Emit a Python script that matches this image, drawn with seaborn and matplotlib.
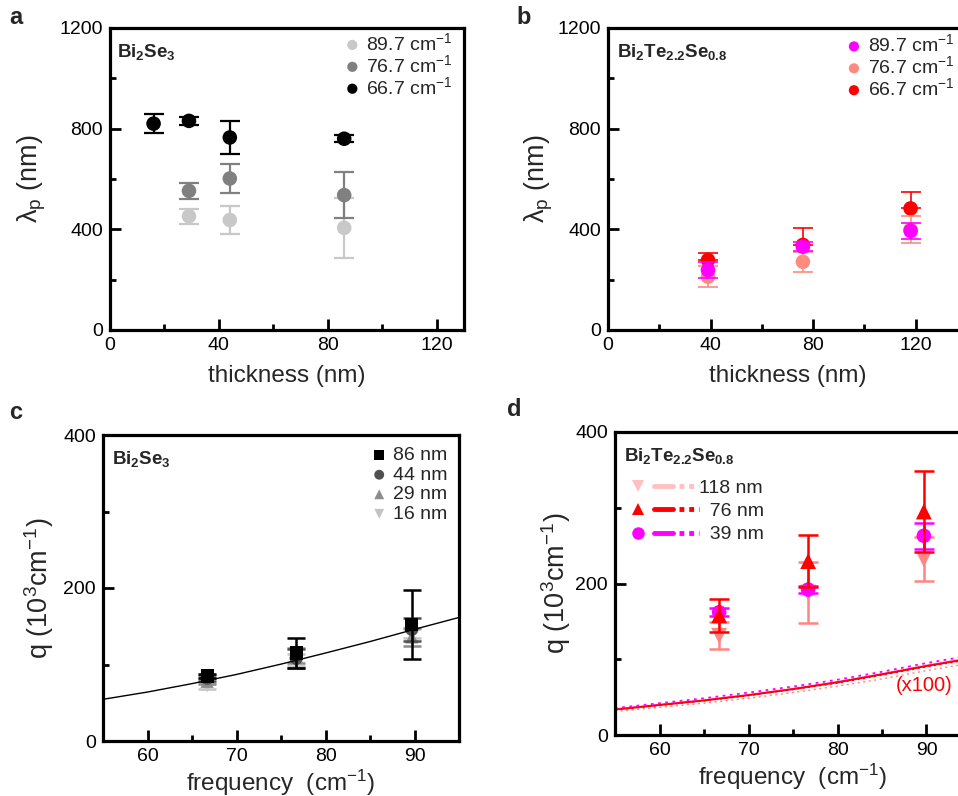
import numpy as np
import pandas as pd
import matplotlib
matplotlib.use("Agg")
import matplotlib.pyplot as plt
import seaborn as sns
from matplotlib.lines import Line2D
from matplotlib.legend_handler import HandlerTuple

sns.set_theme(style="white")
plt.rcParams['font.family'] = ['Liberation Sans', 'DejaVu Sans']
plt.rcParams['mathtext.fontset'] = 'custom'
plt.rcParams['mathtext.rm'] = 'Liberation Sans'
plt.rcParams['mathtext.bf'] = 'Liberation Sans:bold'
plt.rcParams['mathtext.it'] = 'Liberation Sans:italic'

# ---------------- data ----------------
# panel a: Bi2Se3, lambda_p vs thickness
a_thick_black = [16, 29, 44, 86]
a_lam_667 = [820, 831, 765, 760]
a_err_667 = [37, 15, 64, 13]
a_thick = [29, 44, 86]
a_lam_767 = [553, 602, 536]
a_err_767 = [33, 57, 90]
a_lam_897 = [452, 437, 406]
a_err_897 = [30, 56, 119]

# panel b: Bi2Te2.2Se0.8
b_thick = [39, 76, 118]
b_lam_667 = [278, 338, 483]
b_err_667_up = [27, 68, 64]
b_lam_767 = [212, 271, 399]
b_err_767 = [41, 40, 55]
b_lam_897 = [238, 331, 394]
b_err_897 = [31, 18, 32]

# panel c: Bi2Se3 q vs frequency
freq = [66.7, 76.7, 89.7]
c_q_86 = [85, 115, 152]
c_e_86 = [3, 20, 45]
c_q_44 = [82, 108, 146]
c_e_44 = [4, 12, 15]
c_q_29 = [78, 112, 136]
c_e_29 = [4, 10, 12]
c_q_16 = [72, 106, 140]
c_e_16 = [4, 8, 6]
c_fit_x = [55, 60, 65, 70, 75, 80, 85, 90, 95]
c_fit_y = [54.5, 64, 75, 87, 100.5, 115, 130, 146, 161.5]

# panel d: Bi2Te2.2Se0.8 q vs frequency
d_q_118 = [131, 188, 232]
d_e_118 = [18, 40, 29]
d_q_76 = [158, 229.5, 295]
d_e_76 = [21.5, 34.5, 54]
d_q_39 = [162, 192, 263]
d_e_39 = [5, 5, 17]
d_th_x = [55, 60, 65, 70, 75, 80, 85, 90, 95]
d_sol_118 = [34, 40, 46, 53, 61, 70, 80.5, 92, 102]
d_sol_76 = [33.5, 39.5, 45.5, 52.5, 60.5, 69.5, 80, 91, 101]
d_sol_39 = [34, 40, 46, 53, 61, 70, 80.5, 91.5, 101.5]
d_dot_118 = [31, 36.5, 42, 48.5, 56, 64.5, 74, 85, 95]
d_dot_76 = [33, 39, 45, 52, 60, 68.5, 79, 90, 100]
d_dot_39 = [35.5, 42, 48.5, 56, 64, 73, 83.5, 95, 105]

# ---------------- figure ----------------
fig = plt.figure(figsize=(9.58, 7.96), dpi=100)
W, H = 958, 796
def box(l, r, t, b):
    return [l / W, 1 - b / H, (r - l) / W, (b - t) / H]

axa = fig.add_axes(box(110, 464, 28, 330))
axb = fig.add_axes(box(608, 967, 28, 330))
axc = fig.add_axes(box(103, 459, 435, 741))
axd = fig.add_axes(box(615, 971, 432, 735))

TICK = 14
XLAB = 17.5
YLAB = 19.5
LEG = 14

def style(ax):
    for s in ax.spines.values():
        s.set_linewidth(2.3)
        s.set_color('black')
    ax.tick_params(which='both', bottom=True, left=True, top=False, right=False,
                   direction='in', colors='black')
    ax.tick_params(which='major', length=8, width=2, labelsize=TICK, pad=5)
    ax.tick_params(which='minor', length=4, width=2)

def ebar(ax, x, y, e, c, lw=1.6, cs=7, z=2):
    ax.errorbar(x, y, yerr=e, fmt='none', ecolor=c, elinewidth=lw,
                capsize=cs, capthick=lw, zorder=z)

LIGHT = '#c8c8c8'
MID = '#808080'

# ---- panel a ----
ebar(axa, a_thick, a_lam_897, a_err_897, LIGHT, z=2)
sns.scatterplot(x=a_thick, y=a_lam_897, color=LIGHT, s=110, edgecolor='none',
                ax=axa, zorder=3, label='89.7 cm$^{-1}$')
ebar(axa, a_thick, a_lam_767, a_err_767, MID, z=4)
sns.scatterplot(x=a_thick, y=a_lam_767, color=MID, s=110, edgecolor='none',
                ax=axa, zorder=5, label='76.7 cm$^{-1}$')
ebar(axa, a_thick_black, a_lam_667, a_err_667, 'black', z=6)
sns.scatterplot(x=a_thick_black, y=a_lam_667, color='black', s=110, edgecolor='none',
                ax=axa, zorder=7, label='66.7 cm$^{-1}$')
axa.set_xlim(0, 130)
axa.set_ylim(0, 1200)
axa.set_xticks([0, 40, 80, 120])
axa.set_xticks([20, 60, 100], minor=True)
axa.set_yticks([0, 400, 800, 1200])
axa.set_yticks([200, 600, 1000], minor=True)
style(axa)
axa.set_xlabel('thickness (nm)', fontsize=XLAB, labelpad=8)
axa.set_ylabel('λ$_\\mathrm{p}$ (nm)', fontsize=YLAB, labelpad=8)
axa.text(0.02, 0.955, r'$\mathbf{Bi_2Se_3}$', transform=axa.transAxes,
         fontsize=13.5, va='top', ha='left')
axa.legend(loc='upper right', bbox_to_anchor=(1.0, 1.025), frameon=False, fontsize=LEG,
           handletextpad=0.1, labelspacing=0.0, borderaxespad=0.2,
           markerscale=0.7, handlelength=1.2)

# ---- panel b ----
RED = '#ff0000'
SAL = '#ff8a80'
MAG = '#ff00ff'
ebar(axb, b_thick, b_lam_667, [[0, 0, 0], b_err_667_up], RED, lw=1.2, z=2)
sns.scatterplot(x=b_thick, y=b_lam_667, color=RED, s=110, edgecolor='none',
                ax=axb, zorder=3, label='66.7 cm$^{-1}$')
ebar(axb, b_thick, b_lam_767, b_err_767, SAL, lw=1.2, z=4)
sns.scatterplot(x=b_thick, y=b_lam_767, color=SAL, s=110, edgecolor='none',
                ax=axb, zorder=5, label='76.7 cm$^{-1}$')
ebar(axb, b_thick, b_lam_897, b_err_897, MAG, lw=1.2, z=6)
sns.scatterplot(x=b_thick, y=b_lam_897, color=MAG, s=110, edgecolor='none',
                ax=axb, zorder=7, label='89.7 cm$^{-1}$')
axb.set_xlim(0, 140)
axb.set_ylim(0, 1200)
axb.set_xticks([0, 40, 80, 120])
axb.set_xticks([20, 60, 100], minor=True)
axb.set_yticks([0, 400, 800, 1200])
axb.set_yticks([200, 600, 1000], minor=True)
style(axb)
axb.set_xlabel('thickness (nm)', fontsize=XLAB, labelpad=8)
axb.set_ylabel('λ$_\\mathrm{p}$ (nm)', fontsize=YLAB, labelpad=2)
axb.text(0.025, 0.955, r'$\mathbf{Bi_2Te_{2.2}Se_{0.8}}$', transform=axb.transAxes,
         fontsize=13.5, va='top', ha='left')
hb, lb = axb.get_legend_handles_labels()
axb.legend(hb[::-1], lb[::-1], loc='upper left', bbox_to_anchor=(0.62, 1.02),
           frameon=False, fontsize=LEG, handletextpad=0.1, labelspacing=0.0,
           borderaxespad=0.2, markerscale=0.7, handlelength=1.2)

# ---- panel c ----
sns.lineplot(x=c_fit_x, y=c_fit_y, color='black', linewidth=1.0, ax=axc, zorder=10)
C86, C44, C29, C16 = '#000000', '#505050', '#8c8c8c', '#c4c4c4'
series_c = [(c_q_16, c_e_16, C16, 'v', '16 nm'),
            (c_q_29, c_e_29, C29, '^', '29 nm'),
            (c_q_44, c_e_44, C44, 'o', '44 nm'),
            (c_q_86, c_e_86, C86, 's', '86 nm')]
for i, (q, e, col, mk, lab) in enumerate(series_c):
    ebar(axc, freq, q, e, col, lw=1.8, cs=6.5, z=2 + 2 * i)
    sns.scatterplot(x=freq, y=q, color=col, marker=mk, s=90, edgecolor='none',
                    ax=axc, zorder=3 + 2 * i, label=lab)
axc.set_xlim(55, 95)
axc.set_ylim(0, 400)
axc.set_xticks([60, 70, 80, 90])
axc.set_xticks([65, 75, 85], minor=True)
axc.set_yticks([0, 200, 400])
axc.set_yticks([100, 300], minor=True)
style(axc)
axc.set_xlabel('frequency  (cm$^{-1}$)', fontsize=XLAB, labelpad=2)
axc.set_ylabel('q (10$^3$cm$^{-1}$)', fontsize=YLAB, labelpad=5)
axc.text(0.025, 0.955, r'$\mathbf{Bi_2Se_3}$', transform=axc.transAxes,
         fontsize=13.5, va='top', ha='left')
hc, lc = axc.get_legend_handles_labels()
axc.legend(hc[::-1], lc[::-1], loc='upper right', bbox_to_anchor=(1.0, 1.0),
           frameon=False, fontsize=LEG, handletextpad=0.1, labelspacing=0.1,
           borderaxespad=0.2, markerscale=0.75, handlelength=1.2)

# ---- panel d ----
P118 = '#ff8484'
L118 = '#ffc0c0'
sns.lineplot(x=d_th_x, y=d_sol_118, color=L118, linewidth=1.6, ax=axd, zorder=1)
sns.lineplot(x=d_th_x, y=d_sol_39, color=MAG, linewidth=1.0, ax=axd, zorder=1)
sns.lineplot(x=d_th_x, y=d_sol_76, color=RED, linewidth=1.3, ax=axd, zorder=1)
sns.lineplot(x=d_th_x, y=d_dot_118, color=P118, linewidth=1.0, linestyle=(0, (1.5, 2.5)), ax=axd, zorder=1)
sns.lineplot(x=d_th_x, y=d_dot_76, color=RED, linewidth=1.0, linestyle=(0, (1.5, 2.5)), ax=axd, zorder=1)
sns.lineplot(x=d_th_x, y=d_dot_39, color=MAG, linewidth=1.3, linestyle=(0, (1.5, 2.5)), ax=axd, zorder=1)

ebar(axd, freq, d_q_118, d_e_118, P118, lw=1.8, cs=7, z=2)
sns.scatterplot(x=freq, y=d_q_118, color=P118, marker='v', s=130, edgecolor='none', ax=axd, zorder=3)
ebar(axd, freq, d_q_39, d_e_39, MAG, lw=1.8, cs=7, z=4)
sns.scatterplot(x=freq, y=d_q_39, color=MAG, marker='o', s=110, edgecolor='none', ax=axd, zorder=5)
ebar(axd, freq, d_q_76, d_e_76, RED, lw=1.8, cs=7, z=6)
sns.scatterplot(x=freq, y=d_q_76, color=RED, marker='^', s=130, edgecolor='none', ax=axd, zorder=7)

axd.set_xlim(55, 95)
axd.set_ylim(0, 400)
axd.set_xticks([60, 70, 80, 90])
axd.set_xticks([65, 75, 85], minor=True)
axd.set_yticks([0, 200, 400])
axd.set_yticks([100, 300], minor=True)
style(axd)
axd.set_xlabel('frequency  (cm$^{-1}$)', fontsize=XLAB, labelpad=2)
axd.set_ylabel('q (10$^3$cm$^{-1}$)', fontsize=YLAB, labelpad=2)
axd.text(0.025, 0.955, r'$\mathbf{Bi_2Te_{2.2}Se_{0.8}}$', transform=axd.transAxes,
         fontsize=13.5, va='top', ha='left')
axd.text(86.6, 65, '(x100)', color=RED, fontsize=14.5, ha='left', va='center')

def trio(col, mk, ms):
    return (Line2D([], [], color=col, marker=mk, linestyle='none', markersize=ms, markeredgewidth=0),
            Line2D([], [], color=col, linewidth=3.5),
            Line2D([], [], color=col, linewidth=3.5, linestyle=(0, (1, 1))))
hd = [trio(L118, 'v', 9), trio(RED, '^', 9), trio(MAG, 'o', 9)]
axd.legend(hd, ['118 nm', '  76 nm', '  39 nm'], loc='upper left',
           bbox_to_anchor=(0.0, 0.89), frameon=False, fontsize=LEG,
           handler_map={tuple: HandlerTuple(ndivide=None, pad=0.3)},
           handlelength=3.6, handletextpad=0.0, labelspacing=0.3, borderaxespad=0.3)

# panel letters
for txt, x, y in [('a', 9, 6), ('b', 516, 6), ('c', 9, 401), ('d', 507, 398)]:
    fig.text(x / W, 1 - y / H, txt, fontsize=17, fontweight='bold', va='top', ha='left')

fig.savefig('out.png', dpi=100)
